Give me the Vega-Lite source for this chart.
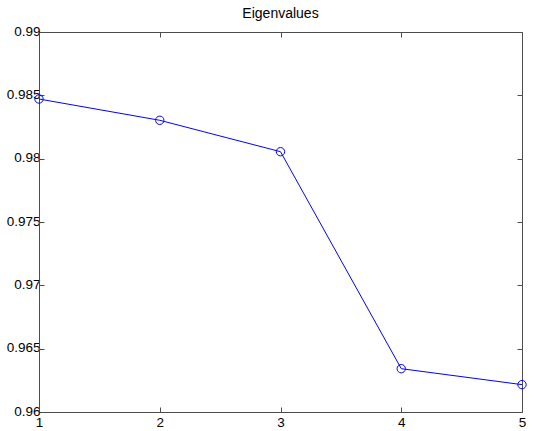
{
  "$schema": "https://vega.github.io/schema/vega-lite/v6.json",
  "width": 483,
  "height": 380,
  "autosize": {"type": "none"},
  "padding": {"left": 39, "top": 32, "right": 13, "bottom": 19},
  "background": "white",
  "config": {
    "view": {"stroke": null},
    "font": "Liberation Sans",
    "axis": {
      "grid": false,
      "domainColor": "#4d4d4d",
      "tickColor": "#4d4d4d",
      "domainWidth": 1,
      "tickWidth": 1,
      "tickSize": -5,
      "labelFont": "Liberation Sans",
      "labelFontSize": 13.5,
      "labelColor": "#000000",
      "title": null
    }
  },
  "title": {
    "text": "Eigenvalues",
    "font": "Liberation Sans",
    "fontSize": 14,
    "fontWeight": "normal",
    "color": "#000000",
    "anchor": "middle",
    "offset": 3
  },
  "data": {
    "values": [
      {"k": 1, "v": 0.98471},
      {"k": 2, "v": 0.98303},
      {"k": 3, "v": 0.98055},
      {"k": 4, "v": 0.96342},
      {"k": 5, "v": 0.96216}
    ]
  },
  "resolve": {"axis": {"x": "independent", "y": "independent"}},
  "layer": [
    {
      "mark": {"type": "line", "color": "#0000ff", "strokeWidth": 1},
      "encoding": {
        "x": {
          "field": "k", "type": "quantitative",
          "scale": {"domain": [1, 5], "nice": false, "zero": false},
          "axis": {"orient": "bottom", "values": [1, 2, 3, 4, 5], "format": "d", "labelPadding": 8, "labelFlush": false}
        },
        "y": {
          "field": "v", "type": "quantitative",
          "scale": {"domain": [0.96, 0.99], "nice": false, "zero": false},
          "axis": {"orient": "left", "values": [0.96, 0.965, 0.97, 0.975, 0.98, 0.985, 0.99], "format": ".3~f", "labelPadding": 4, "labelFlush": false, "labelOffset": -1}
        }
      }
    },
    {
      "mark": {"type": "point", "shape": "circle", "filled": false, "color": "#0000ff", "strokeWidth": 1, "size": 70, "opacity": 1},
      "encoding": {
        "x": {
          "field": "k", "type": "quantitative",
          "axis": {"orient": "top", "values": [1, 2, 3, 4, 5], "labels": false}
        },
        "y": {
          "field": "v", "type": "quantitative",
          "axis": {"orient": "right", "values": [0.96, 0.965, 0.97, 0.975, 0.98, 0.985, 0.99], "labels": false}
        }
      }
    }
  ]
}
